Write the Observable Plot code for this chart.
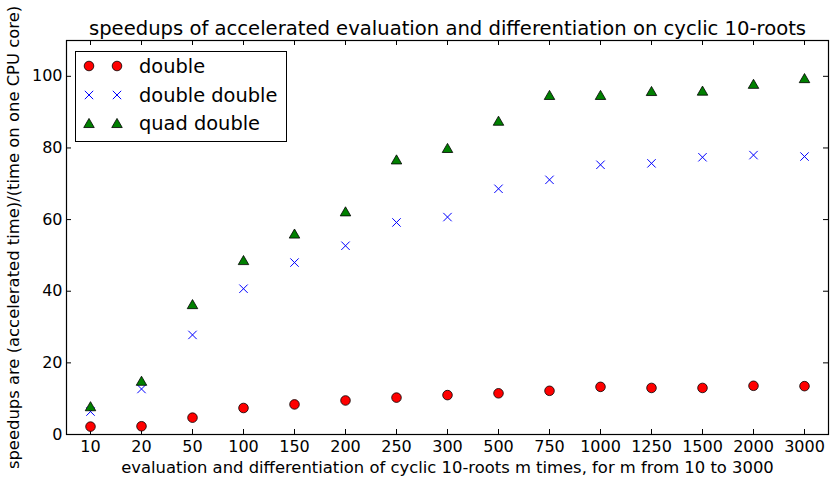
<!DOCTYPE html>
<html>
<head>
<meta charset="utf-8">
<script src="https://cdn.jsdelivr.net/npm/d3@7"></script>
<script src="https://cdn.jsdelivr.net/npm/@observablehq/plot@0.6"></script>
<style>
  html, body { margin: 0; padding: 0; background: #fff; }
  #chart { width: 833px; height: 478px; }
</style>
</head>
<body>
<div id="chart"></div>
<script>
const categories = ["10","20","50","100","150","200","250","300","500","750","1000","1250","1500","2000","3000"];
const doubleVals = [2.2,2.3,4.7,7.4,8.4,9.5,10.3,11.0,11.5,12.2,13.3,13.0,13.0,13.6,13.5];
const ddVals = [6.4,12.7,27.8,40.7,48.0,52.7,59.2,60.7,68.6,71.1,75.3,75.7,77.4,78.0,77.6];
const qdVals = [7.9,15.0,36.4,48.7,56.1,62.3,76.8,80.0,87.6,94.8,94.8,95.9,96.0,97.9,99.5];
const yTicks = [0,20,40,60,80,100];
const seriesNames = ["double","double double","quad double"];
const titleText = "speedups of accelerated evaluation and differentiation on cyclic 10-roots";
const xLabel = "evaluation and differentiation of cyclic 10-roots m times, for m from 10 to 3000";
const yLabel = "speedups are (accelerated time)/(time on one CPU core)";

const W = 833, H = 478, mL = 66, mR = 5, mT = 40, mB = 44;
const plotW = W - mL - mR, plotH = H - mT - mB;
const tickLen = 5;

const dData = categories.map((c, i) => ({m: c, v: doubleVals[i]}));
const ddData = categories.map((c, i) => ({m: c, v: ddVals[i]}));
const qdData = categories.map((c, i) => ({m: c, v: qdVals[i]}));

const chart = Plot.plot({
  width: W, height: H,
  marginLeft: mL, marginRight: mR, marginTop: mT, marginBottom: mB,
  style: {fontFamily: "'DejaVu Sans', sans-serif", fontSize: "16px", color: "black", background: "white"},
  x: {type: "point", domain: categories, padding: 0.33},
  y: {domain: [0, 110]},
  marks: [
    Plot.axisX({tickSize: 0, tickPadding: 6, fontSize: 16, label: null}),
    Plot.axisX({ticks: [], tickSize: 0, fontSize: 16.4, label: xLabel, labelAnchor: "center", labelArrow: "none", labelOffset: 38}),
    Plot.axisY(yTicks, {tickSize: 0, tickPadding: 4, fontSize: 16, label: null}),
    Plot.axisY({ticks: [], tickSize: 0, fontSize: 16.4, label: yLabel, labelAnchor: "center", labelArrow: "none", labelOffset: 59}),
    Plot.tickX(categories, {x: d => d, stroke: "black", insetTop: plotH - tickLen}),
    Plot.tickX(categories, {x: d => d, stroke: "black", insetBottom: plotH - tickLen}),
    Plot.tickY(yTicks, {y: d => d, stroke: "black", insetRight: plotW - tickLen}),
    Plot.tickY(yTicks, {y: d => d, stroke: "black", insetLeft: plotW - tickLen}),
    Plot.dot(dData, {x: "m", y: "v", r: 4.8, fill: "#ff0000", stroke: "black", strokeWidth: 0.8}),
    Plot.dot(ddData, {x: "m", y: "v", r: 3.9, symbol: "times", stroke: "#0000ff", strokeWidth: 1, fill: "none"}),
    Plot.dot(qdData, {x: "m", y: "v", r: 3.9, symbol: "triangle", fill: "#008000", stroke: "black", strokeWidth: 0.8, dy: 1.5}),
    Plot.frame({stroke: "black", strokeWidth: 1.2}),
    Plot.text([titleText], {frameAnchor: "top", lineAnchor: "bottom", dy: -6, fontSize: 19.6, fill: "black"})
  ]
});

// Legend inside the axes (matplotlib style, 2 points per entry)
const svg = d3.select(chart);
const lg = svg.append("g").attr("font-family", "'DejaVu Sans', sans-serif").attr("font-size", 19.4).attr("text-anchor", "start");
lg.append("rect").attr("x", 75.5).attr("y", 51.5).attr("width", 211).attr("height", 90)
  .attr("fill", "white").attr("stroke", "black").attr("stroke-width", 1);
const rowY = [66, 95, 123];
const mx = [89, 117];
seriesNames.forEach((name, i) => {
  const y = rowY[i];
  mx.forEach(x => {
    if (i === 0) {
      lg.append("circle").attr("cx", x).attr("cy", y).attr("r", 4.8).attr("fill", "#ff0000").attr("stroke", "black").attr("stroke-width", 0.8);
    } else if (i === 1) {
      lg.append("path").attr("transform", `translate(${x},${y})`).attr("d", d3.symbol(d3.symbolTimes, 3.9 * 3.9 * Math.PI)())
        .attr("fill", "none").attr("stroke", "#0000ff").attr("stroke-width", 1);
    } else {
      lg.append("path").attr("transform", `translate(${x},${y + 1.5})`).attr("d", d3.symbol(d3.symbolTriangle, 3.9 * 3.9 * Math.PI)())
        .attr("fill", "#008000").attr("stroke", "black").attr("stroke-width", 0.8);
    }
  });
  lg.append("text").attr("x", 139).attr("y", y).attr("dy", "0.35em").attr("fill", "black").attr("text-anchor", "start").text(name);
});

document.getElementById("chart").appendChild(chart);
</script>
</body>
</html>
